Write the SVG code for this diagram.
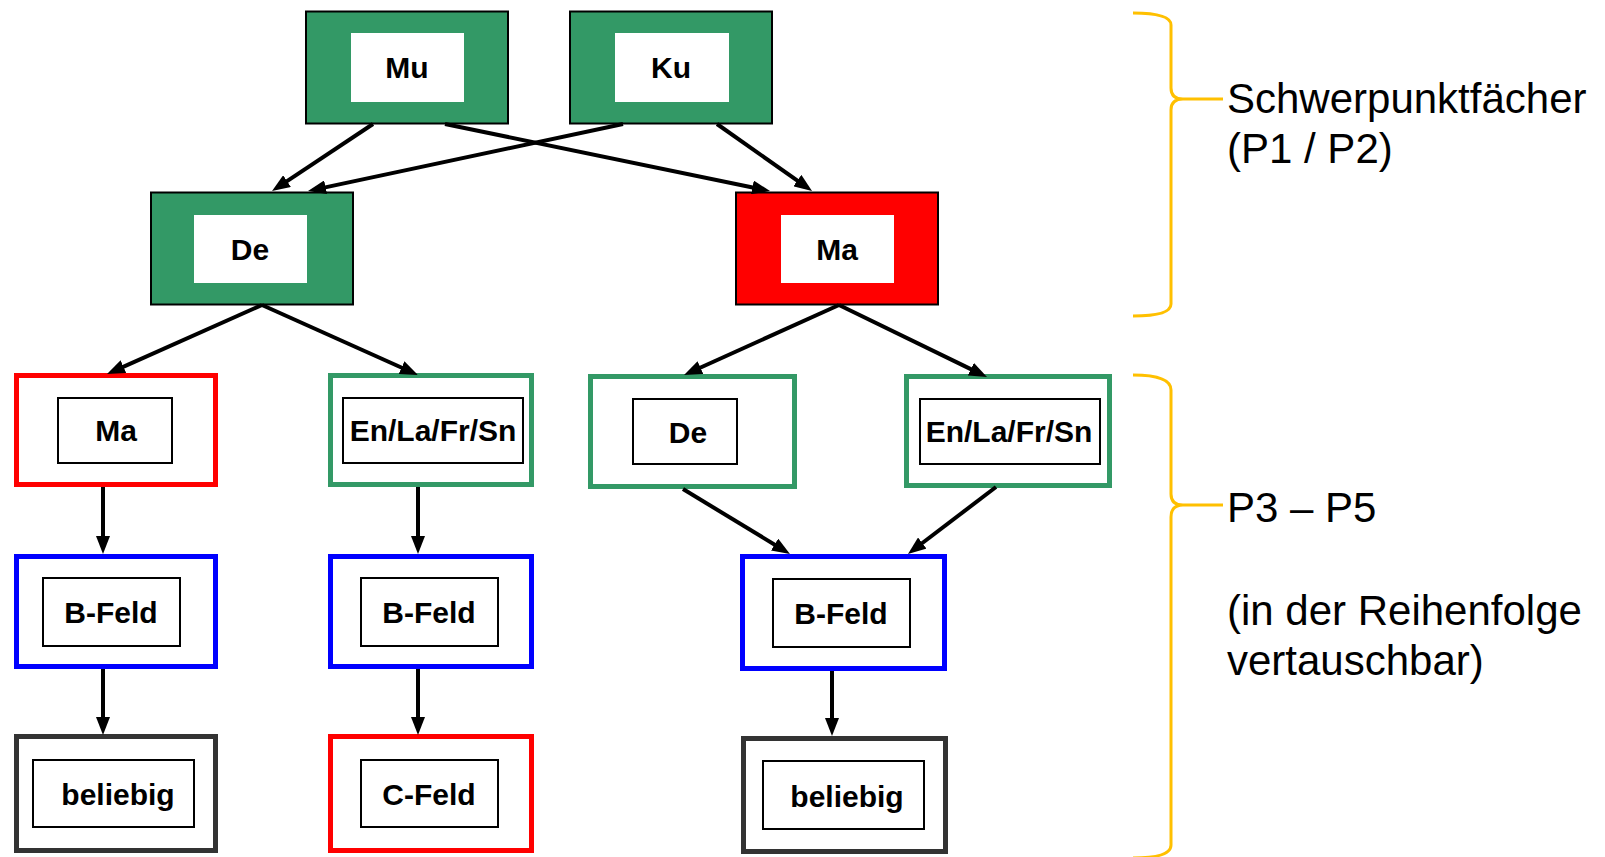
<svg xmlns="http://www.w3.org/2000/svg" width="1605" height="857" viewBox="0 0 1605 857">
<style>
.g{fill:#339966;stroke:#000;stroke-width:2}
.r{fill:#ff0000;stroke:#000;stroke-width:2}
.w{fill:#fff;stroke:none}
.ob{fill:#fff;stroke-width:5}
.inr{fill:#fff;stroke:#000;stroke-width:2}
.t{font-family:"Liberation Sans",Arial,sans-serif;font-weight:bold;font-size:30px;fill:#000;text-anchor:middle}
.lbl{font-family:"Liberation Sans",Arial,sans-serif;font-size:42px;fill:#000}
.c{stroke:#000;stroke-width:4;fill:none;marker-end:url(#ah)}
.br{fill:none;stroke:#FFC000;stroke-width:3}
</style>
<defs>
<marker id="ah" markerUnits="userSpaceOnUse" markerWidth="18" markerHeight="14" viewBox="0 0 18 14" refX="4" refY="7" orient="auto">
<path d="M0,0 L18,7 L0,14 z" fill="#000"/>
</marker>
</defs>
<rect width="1605" height="857" fill="#fff"/>

<g id="node-mu"><rect class="g" x="306" y="11.5" width="202" height="112"/><rect class="w" x="351" y="33" width="113" height="69"/><text class="t" x="407" y="78">Mu</text></g>
<g id="node-ku"><rect class="g" x="570" y="11.5" width="202" height="112"/><rect class="w" x="615" y="33" width="114" height="69"/><text class="t" x="671" y="78">Ku</text></g>
<g id="node-de-top"><rect class="g" x="151" y="192.5" width="202" height="112"/><rect class="w" x="194" y="215" width="113" height="68"/><text class="t" x="250" y="260">De</text></g>
<g id="node-ma-top"><rect class="r" x="736" y="192.5" width="202" height="112"/><rect class="w" x="781" y="215" width="113" height="68"/><text class="t" x="837" y="260">Ma</text></g>

<g id="node-ma-left"><rect class="ob" stroke="#ff0000" x="16.5" y="375.5" width="199" height="109"/><rect class="inr" x="58" y="398" width="114" height="65"/><text class="t" x="116" y="441">Ma</text></g>
<g id="node-en-left"><rect class="ob" stroke="#339966" x="330.5" y="375.5" width="201" height="109"/><rect class="inr" x="343" y="398" width="180" height="65"/><text class="t" x="433" y="441">En/La/Fr/Sn</text></g>
<g id="node-de-right"><rect class="ob" stroke="#339966" x="590.5" y="376.5" width="204" height="110"/><rect class="inr" x="633" y="399" width="104" height="65"/><text class="t" x="688" y="443">De</text></g>
<g id="node-en-right"><rect class="ob" stroke="#339966" x="906.5" y="376.5" width="203" height="109"/><rect class="inr" x="920" y="399" width="180" height="65"/><text class="t" x="1009" y="442">En/La/Fr/Sn</text></g>

<g id="node-bfeld-left"><rect class="ob" stroke="#0000ff" x="16.5" y="556.5" width="199" height="110"/><rect class="inr" x="43" y="578" width="137" height="68"/><text class="t" x="111" y="623">B-Feld</text></g>
<g id="node-bfeld-mid"><rect class="ob" stroke="#0000ff" x="330.5" y="556.5" width="201" height="110"/><rect class="inr" x="361" y="578" width="137" height="68"/><text class="t" x="429" y="623">B-Feld</text></g>
<g id="node-bfeld-right"><rect class="ob" stroke="#0000ff" x="742.5" y="556.5" width="202" height="112"/><rect class="inr" x="773" y="579" width="137" height="68"/><text class="t" x="841" y="624">B-Feld</text></g>

<g id="node-beliebig-left"><rect class="ob" stroke="#333333" x="16.5" y="736.5" width="199" height="114"/><rect class="inr" x="33" y="760" width="161" height="67"/><text class="t" x="118" y="805">beliebig</text></g>
<g id="node-cfeld"><rect class="ob" stroke="#ff0000" x="330.5" y="736.5" width="201" height="114"/><rect class="inr" x="361" y="760" width="137" height="67"/><text class="t" x="429" y="805">C-Feld</text></g>
<g id="node-beliebig-right"><rect class="ob" stroke="#333333" x="743.5" y="738.5" width="202" height="113"/><rect class="inr" x="763" y="761" width="161" height="68"/><text class="t" x="847" y="807">beliebig</text></g>

<g id="connectors">
<line class="c" x1="373" y1="124" x2="283.7" y2="183.3"/>
<line class="c" x1="623" y1="124" x2="321.7" y2="188.1"/>
<line class="c" x1="445" y1="124" x2="756.3" y2="188.2"/>
<line class="c" x1="717" y1="124" x2="800.6" y2="182.9"/>
<line class="c" x1="262" y1="305" x2="119.8" y2="368.3"/>
<line class="c" x1="262" y1="305" x2="405.2" y2="369.3"/>
<line class="c" x1="839" y1="305" x2="696.8" y2="369.2"/>
<line class="c" x1="839" y1="305" x2="974.4" y2="370.9"/>
<line class="c" x1="103" y1="487" x2="103" y2="540"/>
<line class="c" x1="418" y1="487" x2="418" y2="540"/>
<line class="c" x1="683" y1="489" x2="778" y2="546.7"/>
<line class="c" x1="996" y1="487" x2="919.1" y2="545.5"/>
<line class="c" x1="103" y1="669" x2="103" y2="721"/>
<line class="c" x1="418" y1="669" x2="418" y2="721"/>
<line class="c" x1="832" y1="671" x2="832" y2="722"/>
</g>

<g id="brace-top">
<path class="br" d="M1133,13 Q1171,13 1171,25 L1171,88 Q1171,99 1183,99 L1223,99 M1183,99 Q1171,99 1171,110 L1171,304 Q1171,316 1133,316"/>
<text class="lbl" x="1227" y="113">Schwerpunktfächer</text>
<text class="lbl" x="1227" y="163">(P1 / P2)</text>
</g>
<g id="brace-bottom">
<path class="br" d="M1133,375 Q1171,375 1171,390 L1171,494 Q1171,505 1183,505 L1223,505 M1183,505 Q1171,505 1171,517 L1171,845 Q1171,858 1133,858"/>
<text class="lbl" x="1227" y="522">P3 – P5</text>
<text class="lbl" x="1227" y="625">(in der Reihenfolge</text>
<text class="lbl" x="1227" y="675">vertauschbar)</text>
</g>
</svg>
